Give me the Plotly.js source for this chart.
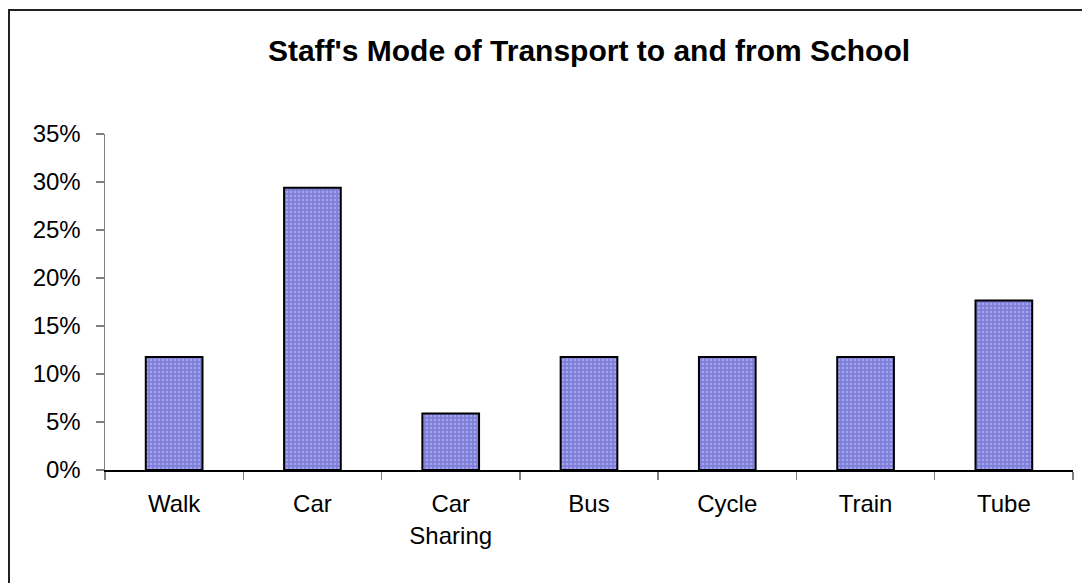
<!DOCTYPE html>
<html>
<head>
<meta charset="utf-8">
<script src="https://cdn.plot.ly/plotly-3.0.1.min.js"></script>
<style>
  html, body { margin: 0; padding: 0; background: #ffffff; }
  #wrap { position: relative; width: 1082px; height: 583px; overflow: hidden; }
  #chart { position: absolute; left: 0; top: 0; width: 1082px; height: 583px; }
  #frame { position: absolute; left: 8px; top: 9px; width: 1090px; height: 600px;
           border-left: 2px solid #222; border-top: 2px solid #222; pointer-events: none; }
</style>
</head>
<body>
<div id="wrap">
  <div id="chart"></div>
  <div id="frame"></div>
</div>
<script>
const categories = ["Walk", "Car", "Car<br>Sharing", "Bus", "Cycle", "Train", "Tube"];
const shares = [0.1176, 0.2941, 0.0588, 0.1176, 0.1176, 0.1176, 0.1765];
const yTickVals = [0, 0.05, 0.10, 0.15, 0.20, 0.25, 0.30, 0.35];
const yTickText = ["0%", "5%", "10%", "15%", "20%", "25%", "30%", "35%"];

const trace = {
  type: "bar",
  x: categories,
  y: shares,
  width: 0.41,
  marker: {
    color: "#8585de",
    line: { color: "#000000", width: 2 },
    pattern: { shape: ".", fgcolor: "#a4a4f4", bgcolor: "#7e7ed6", size: 4, solidity: 0.35, fillmode: "replace" }
  },
  hoverinfo: "skip"
};

const layout = {
  width: 1082, height: 583,
  margin: { l: 105, r: 9, t: 134, b: 113 },
  paper_bgcolor: "#ffffff",
  plot_bgcolor: "#ffffff",
  showlegend: false,
  font: { family: "Liberation Sans, Arial, sans-serif", color: "#000000" },
  title: {
    text: "<b>Staff's Mode of Transport to and from School</b>",
    font: { family: "Liberation Sans, Arial, sans-serif", size: 30, color: "#000000" },
    x: 0.5, xref: "paper", xanchor: "center",
    y: 0.913, yref: "container", yanchor: "middle"
  },
  xaxis: {
    type: "category",
    showline: true, linecolor: "#000000", linewidth: 1.5,
    ticks: "outside", tickson: "boundaries", ticklen: 8, tickcolor: "#808080", tickwidth: 1.5,
    tickfont: { size: 24, color: "#000000" },
    showgrid: false, zeroline: false,
    ticklabelstandoff: 12
  },
  yaxis: {
    range: [0, 0.35],
    tickvals: yTickVals, ticktext: yTickText,
    showline: true, linecolor: "#808080", linewidth: 1.5,
    ticks: "outside", ticklen: 8, tickcolor: "#808080", tickwidth: 1.5,
    tickfont: { size: 24, color: "#000000" },
    showgrid: false, zeroline: false,
    ticklabelstandoff: 10
  }
};

Plotly.newPlot("chart", [trace], layout, { staticPlot: true, displayModeBar: false });
</script>
</body>
</html>
